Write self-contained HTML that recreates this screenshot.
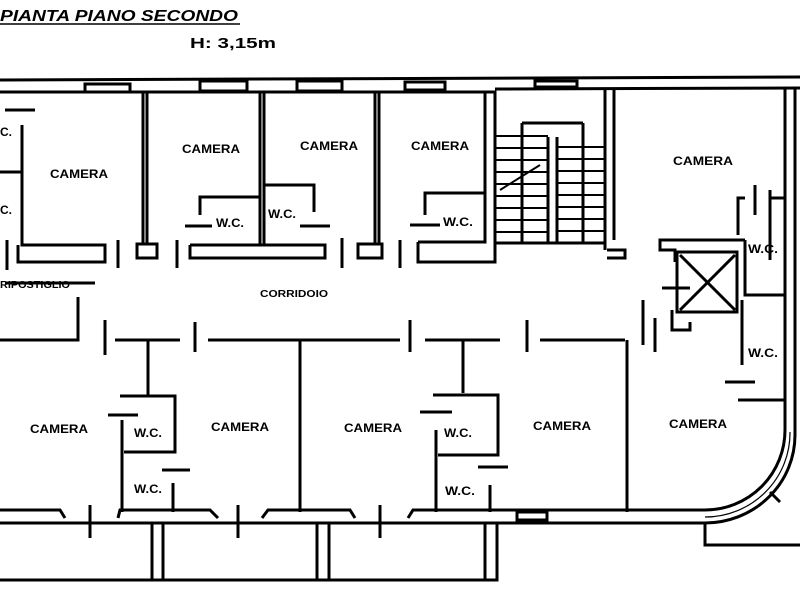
<!DOCTYPE html>
<html><head><style>
html,body{margin:0;padding:0;background:#fff;width:800px;height:600px;overflow:hidden}
svg{display:block}
text{font-family:"Liberation Sans",sans-serif;font-weight:bold;fill:#000}
</style></head><body>
<svg width="800" height="600" viewBox="0 0 800 600" xmlns="http://www.w3.org/2000/svg">
<g>
<text x="0" y="21" font-size="16" font-style="italic" textLength="238" lengthAdjust="spacingAndGlyphs">PIANTA PIANO SECONDO</text>
<line x1="0" y1="24" x2="240" y2="24" stroke="#000" stroke-width="1.5"/>
<text x="190" y="48" font-size="15" textLength="86" lengthAdjust="spacingAndGlyphs">H: 3,15m</text>
</g>
<g fill="none" stroke="#000" stroke-width="3">
<line x1="0" y1="80" x2="800" y2="77"/>
<line x1="0" y1="92" x2="495" y2="92"/>
<line x1="495" y1="89" x2="800" y2="88"/>
<rect x="85" y="84" width="45" height="8"/>
<rect x="200" y="81" width="47" height="10"/>
<rect x="297" y="81" width="45" height="10"/>
<rect x="405" y="82" width="40" height="8"/>
<rect x="535" y="81" width="42" height="6"/>
<line x1="5" y1="110" x2="35" y2="110"/>
<line x1="0" y1="172" x2="22" y2="172"/>
<polyline points="22,125 22,245 105,245 105,262 18,262 18,245"/>
<line x1="7" y1="240" x2="7" y2="270"/>
<rect x="143" y="92" width="4" height="152"/>
<rect x="137" y="244" width="20" height="14"/>
<line x1="118" y1="240" x2="118" y2="268"/>
<line x1="177" y1="240" x2="177" y2="268"/>
<polyline points="190,245 325,245 325,258 190,258 190,245"/>
<rect x="260" y="92" width="4" height="153"/>
<polyline points="200,215 200,197 260,197"/>
<polyline points="264,185 314,185 314,212"/>
<line x1="185" y1="226" x2="212" y2="226"/>
<line x1="300" y1="226" x2="330" y2="226"/>
<rect x="375" y="92" width="4" height="152"/>
<rect x="358" y="244" width="24" height="14"/>
<line x1="342" y1="238" x2="342" y2="268"/>
<line x1="400" y1="240" x2="400" y2="268"/>
<polyline points="425,215 425,193 485,193"/>
<line x1="410" y1="225" x2="440" y2="225"/>
<polyline points="418,242 485,242 485,92 495,92 495,262 418,262 418,242"/>
<line x1="605" y1="90" x2="605" y2="250"/>
<polyline points="607,250 625,250 625,258 607,258"/>
<line x1="522" y1="123" x2="583" y2="123"/>
<line x1="522" y1="123" x2="522" y2="243"/>
<line x1="583" y1="123" x2="583" y2="243"/>
<line x1="548" y1="137" x2="548" y2="243"/>
<line x1="557" y1="137" x2="557" y2="243"/>
<line x1="495" y1="243" x2="605" y2="243"/>
</g>
<g stroke="#000" stroke-width="2">
<line x1="495" y1="136" x2="548" y2="136"/><line x1="557" y1="147" x2="605" y2="147"/>
<line x1="495" y1="148" x2="548" y2="148"/><line x1="557" y1="159" x2="605" y2="159"/>
<line x1="495" y1="160" x2="548" y2="160"/><line x1="557" y1="171" x2="605" y2="171"/>
<line x1="495" y1="172" x2="548" y2="172"/><line x1="557" y1="183" x2="605" y2="183"/>
<line x1="495" y1="184" x2="548" y2="184"/><line x1="557" y1="195" x2="605" y2="195"/>
<line x1="495" y1="196" x2="548" y2="196"/><line x1="557" y1="207" x2="605" y2="207"/>
<line x1="495" y1="208" x2="548" y2="208"/><line x1="557" y1="219" x2="605" y2="219"/>
<line x1="495" y1="220" x2="548" y2="220"/><line x1="557" y1="231" x2="605" y2="231"/>
<line x1="495" y1="232" x2="548" y2="232"/>
<line x1="500" y1="190" x2="540" y2="165"/>
</g>
<g fill="none" stroke="#000" stroke-width="3">
<line x1="614" y1="90" x2="614" y2="240"/>
<line x1="785" y1="88" x2="785" y2="430"/>
<line x1="795" y1="88" x2="795" y2="435"/>
<line x1="770" y1="190" x2="770" y2="260"/>
<line x1="755" y1="185" x2="755" y2="215"/>
<polyline points="738,235 738,198 745,198"/>
<polyline points="770,198 785,198"/>
<polyline points="745,240 660,240 660,250 675,250 675,262"/>
<polyline points="745,240 745,295 785,295"/>
<rect x="677" y="252" width="60" height="60"/>
<line x1="680" y1="255" x2="735" y2="310"/>
<line x1="735" y1="255" x2="680" y2="310"/>
<line x1="662" y1="288" x2="690" y2="288"/>
<polyline points="672,310 672,330 690,330 690,322"/>
<polyline points="742,300 742,365"/>
<line x1="725" y1="382" x2="755" y2="382"/>
<polyline points="738,400 785,400"/>
<line x1="643" y1="300" x2="643" y2="345"/>
<line x1="5" y1="283" x2="95" y2="283"/>
<polyline points="78,297 78,340 0,340"/>
<line x1="105" y1="320" x2="105" y2="355"/>
<line x1="115" y1="340" x2="180" y2="340"/>
<line x1="195" y1="322" x2="195" y2="352"/>
<line x1="208" y1="340" x2="400" y2="340"/>
<line x1="410" y1="320" x2="410" y2="352"/>
<line x1="425" y1="340" x2="500" y2="340"/>
<line x1="527" y1="320" x2="527" y2="352"/>
<line x1="540" y1="340" x2="625" y2="340"/>
<line x1="655" y1="318" x2="655" y2="352"/>
<line x1="148" y1="340" x2="148" y2="395"/>
<polyline points="120,396 175,396 175,452 124,452"/>
<polyline points="122,420 122,512"/>
<line x1="108" y1="415" x2="138" y2="415"/>
<line x1="162" y1="470" x2="190" y2="470"/>
<line x1="173" y1="483" x2="173" y2="512"/>
<line x1="300" y1="340" x2="300" y2="512"/>
<line x1="463" y1="340" x2="463" y2="393"/>
<polyline points="433,395 498,395 498,455 438,455"/>
<polyline points="436,430 436,512"/>
<line x1="420" y1="412" x2="452" y2="412"/>
<line x1="478" y1="467" x2="508" y2="467"/>
<line x1="490" y1="485" x2="490" y2="512"/>
<line x1="627" y1="340" x2="627" y2="512"/>
<polyline points="0,510 60,510 65,518"/>
<polyline points="118,518 120,510 210,510 218,518"/>
<polyline points="262,518 268,510 350,510 355,518"/>
<polyline points="408,518 413,510 705,510"/>
<line x1="0" y1="523" x2="705" y2="523"/>
<rect x="517" y="512" width="30" height="8"/>
<line x1="90" y1="505" x2="90" y2="538"/>
<line x1="238" y1="505" x2="238" y2="538"/>
<line x1="380" y1="505" x2="380" y2="538"/>
<line x1="0" y1="580" x2="497" y2="580"/>
<rect x="152" y="523" width="11" height="57"/>
<rect x="317" y="523" width="12" height="57"/>
<rect x="485" y="523" width="12" height="57"/>
<path d="M785,430 A80,80 0 0 1 705,510"/>
<path d="M795,435 A90,88 0 0 1 705,523"/>
<path d="M790,432 A85,84 0 0 1 705,517" stroke-width="1.2"/>
<polyline points="705,523 705,545 800,545"/>
<line x1="770" y1="492" x2="780" y2="502"/>
</g>
<g font-size="12">
<text x="0" y="136">C.</text>
<text x="0" y="214">C.</text>
<text x="50" y="178" textLength="58" lengthAdjust="spacingAndGlyphs">CAMERA</text>
<text x="182" y="153" textLength="58" lengthAdjust="spacingAndGlyphs">CAMERA</text>
<text x="300" y="150" textLength="58" lengthAdjust="spacingAndGlyphs">CAMERA</text>
<text x="411" y="150" textLength="58" lengthAdjust="spacingAndGlyphs">CAMERA</text>
<text x="673" y="165" textLength="60" lengthAdjust="spacingAndGlyphs">CAMERA</text>
<text x="216" y="227" textLength="28" lengthAdjust="spacingAndGlyphs">W.C.</text>
<text x="268" y="218" textLength="28" lengthAdjust="spacingAndGlyphs">W.C.</text>
<text x="443" y="226" textLength="30" lengthAdjust="spacingAndGlyphs">W.C.</text>
<text x="748" y="253" textLength="30" lengthAdjust="spacingAndGlyphs">W.C.</text>
<text x="748" y="357" textLength="30" lengthAdjust="spacingAndGlyphs">W.C.</text>
<text x="0" y="288" font-size="10" textLength="70" lengthAdjust="spacingAndGlyphs">RIPOSTIGLIO</text>
<text x="260" y="297" font-size="10" textLength="68" lengthAdjust="spacingAndGlyphs">CORRIDOIO</text>
<text x="30" y="433" textLength="58" lengthAdjust="spacingAndGlyphs">CAMERA</text>
<text x="211" y="431" textLength="58" lengthAdjust="spacingAndGlyphs">CAMERA</text>
<text x="344" y="432" textLength="58" lengthAdjust="spacingAndGlyphs">CAMERA</text>
<text x="533" y="430" textLength="58" lengthAdjust="spacingAndGlyphs">CAMERA</text>
<text x="669" y="428" textLength="58" lengthAdjust="spacingAndGlyphs">CAMERA</text>
<text x="134" y="437" textLength="28" lengthAdjust="spacingAndGlyphs">W.C.</text>
<text x="134" y="493" textLength="28" lengthAdjust="spacingAndGlyphs">W.C.</text>
<text x="444" y="437" textLength="28" lengthAdjust="spacingAndGlyphs">W.C.</text>
<text x="445" y="495" textLength="30" lengthAdjust="spacingAndGlyphs">W.C.</text>
</g>
</svg>
</body></html>
